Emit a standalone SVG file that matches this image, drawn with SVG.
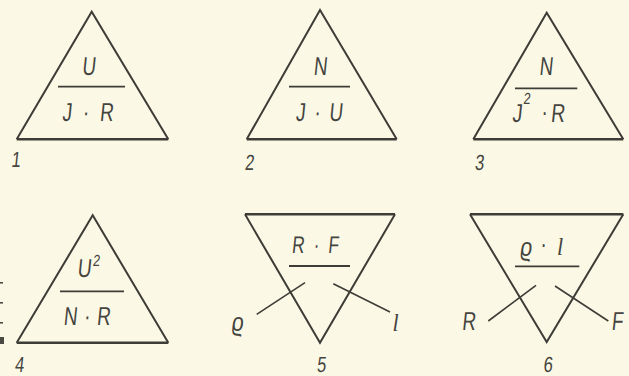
<svg xmlns="http://www.w3.org/2000/svg" width="629" height="376" viewBox="0 0 629 376">
<style>
.tri{fill:none;stroke:#3d3c37;stroke-width:2;stroke-linejoin:miter}
.base{stroke:#3d3c37;stroke-width:2.6;fill:none}
.bar{stroke:#3d3c37;stroke-width:1.8}
.ld{stroke:#3d3c37;stroke-width:1.6;fill:none}
.t{font-family:"Liberation Sans",Arial,sans-serif;font-size:26px;fill:#45443f}
.m{font-family:"Liberation Sans",Arial,sans-serif;font-size:24px;fill:#45443f}
.l{font-family:"Liberation Serif","Times New Roman",serif;font-style:italic;font-size:26px;fill:#45443f}
.s{font-family:"Liberation Sans",Arial,sans-serif;font-size:16px;fill:#45443f}
.n{font-family:"Liberation Sans",Arial,sans-serif;font-size:22px;fill:#45443f}
</style>
<rect width="629" height="376" fill="#fbf9e5"/>
<g id="edge-marks" fill="#4a4944">
<rect x="0" y="282" width="3" height="1.6"/>
<rect x="0" y="302" width="3" height="1.6"/>
<rect x="0" y="322" width="3" height="1.6"/>
<rect x="0" y="337" width="4" height="7"/>
</g>
<g id="node1">
<path class="tri" d="M16.7,139.3 L91.7,11.7 L168.3,139.3"/>
<line class="base" x1="16.7" y1="139.3" x2="168.3" y2="139.3"/>
<line class="bar" x1="58" y1="86.7" x2="125" y2="86.7"/>
<text class="t" text-anchor="middle" transform="translate(88.5,75) scale(0.72,1) skewX(-8)">U</text>
<text class="t" text-anchor="middle" textLength="71" lengthAdjust="spacing" transform="translate(87.5,120.5) scale(0.72,1) skewX(-8)">J · R</text>
<text class="n" text-anchor="middle" transform="translate(15.5,167) scale(0.75,1) skewX(-8)">1</text>
</g>
<g id="node2">
<path class="tri" d="M246.7,139.3 L320,10 L396.7,139.3"/>
<line class="base" x1="246.7" y1="139.3" x2="396.7" y2="139.3"/>
<line class="bar" x1="289" y1="86.7" x2="350" y2="86.7"/>
<text class="t" text-anchor="middle" transform="translate(320,75) scale(0.72,1) skewX(-8)">N</text>
<text class="t" text-anchor="middle" textLength="65" lengthAdjust="spacing" transform="translate(319,120.5) scale(0.72,1) skewX(-8)">J · U</text>
<text class="n" text-anchor="middle" transform="translate(249,170) scale(0.75,1) skewX(-8)">2</text>
</g>
<g id="node3">
<path class="tri" d="M473.3,139.3 L546.7,12.7 L623.3,139.3"/>
<line class="base" x1="473.3" y1="139.3" x2="623.3" y2="139.3"/>
<line class="bar" x1="515" y1="88.3" x2="577.3" y2="88.3"/>
<text class="t" text-anchor="middle" transform="translate(545.8,75) scale(0.72,1) skewX(-8)">N</text>
<text class="t" transform="translate(512,121.5) scale(0.74,1) skewX(-8)">J</text>
<text class="s" transform="translate(523,104) scale(0.8,1) skewX(-8)">2</text>
<text class="t" text-anchor="middle" transform="translate(544.5,120.5) scale(0.72,1)">·</text>
<text class="t" transform="translate(550.5,121.5) scale(0.74,1) skewX(-8)">R</text>
<text class="n" text-anchor="middle" transform="translate(479,170) scale(0.75,1) skewX(-8)">3</text>
</g>
<g id="node4">
<path class="tri" d="M16.7,342.7 L92.7,215.3 L168.3,342.7"/>
<line class="base" x1="16.7" y1="342.7" x2="168.3" y2="342.7"/>
<line class="bar" x1="60" y1="291.3" x2="124" y2="291.3"/>
<text class="t" transform="translate(77,276.5) scale(0.74,1) skewX(-8)">U</text>
<text class="s" transform="translate(92.5,265.5) scale(0.8,1) skewX(-8)">2</text>
<text class="t" text-anchor="middle" textLength="65" lengthAdjust="spacing" transform="translate(86.7,325.3) scale(0.72,1) skewX(-8)">N · R</text>
<text class="n" text-anchor="middle" transform="translate(19,372) scale(0.75,1) skewX(-8)">4</text>
</g>
<g id="node5">
<path class="tri" d="M245,214.3 L320,342.7 L395,214.3"/>
<line class="base" x1="245" y1="214.3" x2="395" y2="214.3"/>
<line class="bar" x1="289" y1="266" x2="350" y2="266"/>
<text class="m" text-anchor="middle" textLength="65" lengthAdjust="spacing" transform="translate(315,252.7) scale(0.72,1) skewX(-8)">R·F</text>
<text class="t" text-anchor="middle" transform="translate(237,331) scale(0.8,1) skewX(-8)">ϱ</text>
<text class="l" text-anchor="middle" transform="translate(395.5,331) scale(0.85,1)">l</text>
<text class="n" text-anchor="middle" transform="translate(321,372) scale(0.75,1) skewX(-8)">5</text>
</g>
<g id="node6">
<path class="tri" d="M470,214.3 L546.7,342 L623.3,214.3"/>
<line class="base" x1="470" y1="214.3" x2="623.3" y2="214.3"/>
<line class="bar" x1="515" y1="266.3" x2="579.3" y2="266.3"/>
<text class="t" text-anchor="middle" transform="translate(525.5,256) scale(0.8,1) skewX(-8)">ϱ</text>
<text class="t" text-anchor="middle" transform="translate(543.5,253) scale(0.72,1)">·</text>
<text class="l" text-anchor="middle" transform="translate(560,255) scale(0.85,1)">l</text>
<text class="t" text-anchor="middle" transform="translate(468.5,329.5) scale(0.72,1) skewX(-8)">R</text>
<text class="t" text-anchor="middle" transform="translate(617,329.5) scale(0.72,1) skewX(-8)">F</text>
<text class="n" text-anchor="middle" transform="translate(547.5,372) scale(0.75,1) skewX(-8)">6</text>
</g>
<g id="connectors">
<line class="ld" x1="256.7" y1="314.3" x2="305" y2="282.7"/>
<line class="ld" x1="333.3" y1="283.7" x2="390" y2="312"/>
<line class="ld" x1="488.3" y1="321" x2="536" y2="285.3"/>
<line class="ld" x1="555" y1="286" x2="608.3" y2="321"/>
</g>
</svg>
